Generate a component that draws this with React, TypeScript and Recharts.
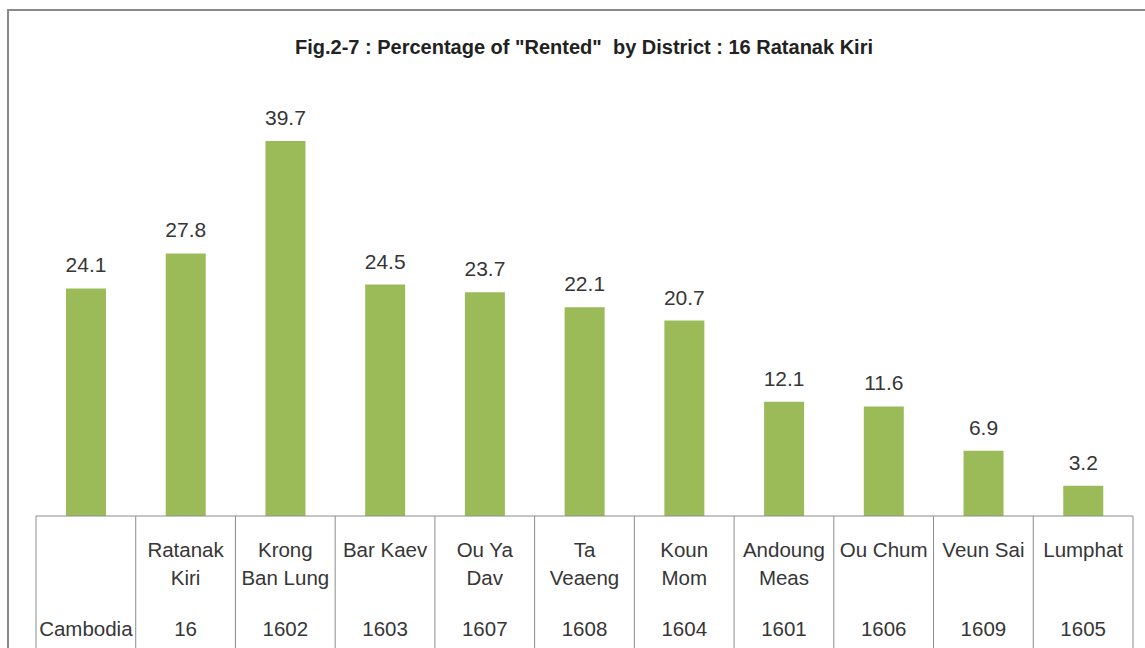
import React from "react";
import { BarChart, Bar, XAxis, YAxis, LabelList } from "recharts";

const districtNames: string[][] = [
  [],
  ["Ratanak", "Kiri"],
  ["Krong", "Ban Lung"],
  ["Bar Kaev"],
  ["Ou Ya", "Dav"],
  ["Ta", "Veaeng"],
  ["Koun", "Mom"],
  ["Andoung", "Meas"],
  ["Ou Chum"],
  ["Veun Sai"],
  ["Lumphat"],
];
const districtCodes: string[] = [
  "Cambodia", "16", "1602", "1603", "1607", "1608", "1604", "1601", "1606", "1609", "1605",
];
const rentedPct: number[] = [24.1, 27.8, 39.7, 24.5, 23.7, 22.1, 20.7, 12.1, 11.6, 6.9, 3.2];

const data = districtCodes.map((code, i) => ({
  key: code,
  idx: i,
  value: rentedPct[i],
}));

const FONT = "'Liberation Sans', Arial, sans-serif";
const TEXT = "#363636";
const LINE = "#8c8c8c";

const W = 1145;
const H = 648;
const M = { top: 91, right: 12, bottom: 0, left: 36 };
const AXIS_H = 132;
const BAND = (W - M.left - M.right) / data.length;

const CellTick = (props: any) => {
  const { x, y, payload } = props;
  const i = payload.index;
  const top = y;
  const left = x - BAND / 2;
  const right = x + BAND / 2;
  const names = districtNames[i] || [];
  return (
    <g>
      <line x1={left} y1={top} x2={left} y2={H} stroke={LINE} strokeWidth={1} />
      {i === data.length - 1 && (
        <line x1={right} y1={top} x2={right} y2={H} stroke={LINE} strokeWidth={1} />
      )}
      {names.map((n, k) => (
        <text
          key={k}
          x={x}
          y={top + 41 + k * 28}
          textAnchor="middle"
          fontFamily={FONT}
          fontSize={20.5}
          fill={TEXT}
        >
          {n}
        </text>
      ))}
      <text
        x={x}
        y={top + 120}
        textAnchor="middle"
        fontFamily={FONT}
        fontSize={20.5}
        fill={TEXT}
      >
        {districtCodes[i]}
      </text>
    </g>
  );
};

export default function App() {
  return (
    <div style={{ position: "absolute", left: 0, top: 0, width: W, height: H, background: "#fff" }}>
      <div
        style={{
          position: "absolute",
          left: 7,
          top: 9,
          width: W,
          height: H,
          borderLeft: "2px solid #8a8a8a",
          borderTop: "2px solid #8a8a8a",
          boxSizing: "border-box",
        }}
      />
      <div
        style={{
          position: "absolute",
          left: 0,
          top: 35,
          width: 1168,
          textAlign: "center",
          fontFamily: FONT,
          fontWeight: "bold",
          fontSize: 20,
          lineHeight: "24px",
          color: "#222",
          whiteSpace: "pre",
        }}
      >
        {'Fig.2-7 : Percentage of "Rented"  by District : 16 Ratanak Kiri'}
      </div>
      <div style={{ position: "absolute", left: 0, top: 0 }}>
        <BarChart width={W} height={H} data={data} margin={M} barSize={40}>
          <YAxis hide domain={[0, 45]} />
          <XAxis
            dataKey="key"
            height={AXIS_H}
            interval={0}
            tickLine={false}
            tickSize={0}
            tickMargin={0}
            axisLine={{ stroke: LINE, strokeWidth: 1 }}
            tick={<CellTick />}
          />
          <Bar dataKey="value" fill="#9bbb59" isAnimationActive={false}>
            <LabelList
              dataKey="value"
              position="top"
              offset={16}
              fontFamily={FONT}
              fontSize={21}
              fill={TEXT}
              formatter={(v: any) => Number(v).toFixed(1)}
            />
          </Bar>
        </BarChart>
      </div>
    </div>
  );
}
